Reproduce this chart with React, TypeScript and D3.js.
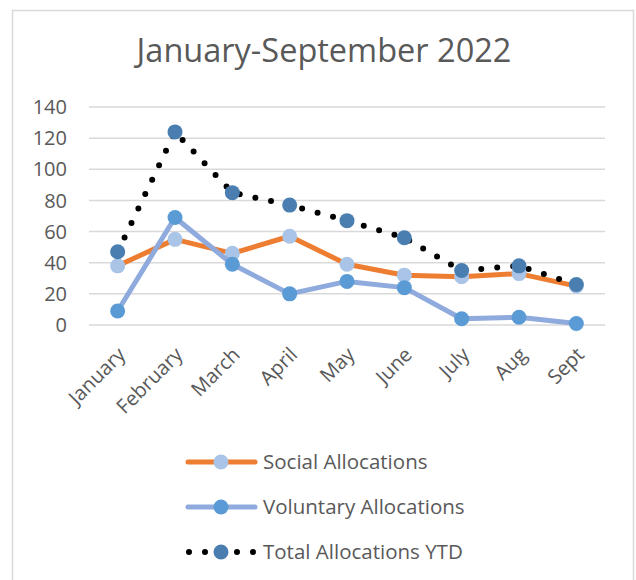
import React, { useEffect, useRef } from 'react';
import * as d3 from 'd3';

const months = ['January', 'February', 'March', 'April', 'May', 'June', 'July', 'Aug', 'Sept'];
const socialValues = [38, 55, 46, 57, 39, 32, 31, 33, 25];
const voluntaryValues = [9, 69, 39, 20, 28, 24, 4, 5, 1];
const totalValues = [47, 124, 85, 77, 67, 56, 35, 38, 26];
const yTicks = [0, 20, 40, 60, 80, 100, 120, 140];

const FONT = "'Open Sans', 'DejaVu Sans', sans-serif";
const TEXT = '#595959';

const App = () => {
  const chartRef = useRef<SVGSVGElement | null>(null);

  useEffect(() => {
    document.body.style.margin = '0';
    drawChart();
  }, []);

  const drawChart = () => {
    const svg = d3.select(chartRef.current);
    svg.selectAll('*').remove();

    const height = 580;

    // 外框
    svg.append('rect')
      .attr('x', 12.5)
      .attr('y', 10.5)
      .attr('width', 621)
      .attr('height', height)
      .attr('fill', '#fff')
      .attr('stroke', '#d9d9d9')
      .attr('stroke-width', 1.5);

    // 标题
    svg.append('text')
      .attr('x', 324)
      .attr('y', 62)
      .attr('text-anchor', 'middle')
      .style('font-family', FONT)
      .style('font-size', '32.5px')
      .style('fill', TEXT)
      .text('January-September 2022');

    const xScale = d3.scaleBand<string>()
      .domain(months)
      .range([89, 605]);
    const cx = (m: string) => (xScale(m) as number) + xScale.bandwidth() / 2;

    const yScale = d3.scaleLinear()
      .domain([0, 140])
      .range([325, 107]);

    // 网格线
    svg.append('g')
      .selectAll('line')
      .data(yTicks)
      .join('line')
      .attr('x1', 89)
      .attr('x2', 605)
      .attr('y1', d => yScale(d))
      .attr('y2', d => yScale(d))
      .style('stroke', '#d9d9d9')
      .style('stroke-width', 1.5);

    // y 轴标签
    svg.append('g')
      .selectAll('text')
      .data(yTicks)
      .join('text')
      .attr('x', 67)
      .attr('y', d => yScale(d))
      .attr('dy', '0.36em')
      .attr('text-anchor', 'end')
      .style('font-family', FONT)
      .style('font-size', '20px')
      .style('fill', TEXT)
      .text(d => d);

    // x 轴标签
    svg.append('g')
      .selectAll('text')
      .data(months)
      .join('text')
      .attr('text-anchor', 'end')
      .attr('dy', '0.35em')
      .attr('transform', d => `translate(${cx(d) + 4}, ${351}) rotate(-45)`)
      .style('font-family', FONT)
      .style('font-size', '20px')
      .style('fill', TEXT)
      .text(d => d);

    const series = [
      { name: 'Social Allocations', values: socialValues, line: '#ED7D31', marker: '#A9C4E7', dotted: false },
      { name: 'Voluntary Allocations', values: voluntaryValues, line: '#8FAADC', marker: '#5B9BD5', dotted: false },
      { name: 'Total Allocations YTD', values: totalValues, line: '#000', marker: '#4A7EB1', dotted: true },
    ];

    const line = d3.line<number>()
      .x((d, i) => cx(months[i]))
      .y(d => yScale(d));

    series.forEach(s => {
      const g = svg.append('g');
      g.append('path')
        .datum(s.values)
        .attr('d', line)
        .attr('fill', 'none')
        .attr('stroke', s.line)
        .attr('stroke-width', s.dotted ? 6 : 5)
        .attr('stroke-linecap', 'round')
        .attr('stroke-linejoin', 'round')
        .attr('stroke-dasharray', s.dotted ? '0 16' : null);
      g.selectAll('circle')
        .data(s.values)
        .join('circle')
        .attr('cx', (d, i) => cx(months[i]))
        .attr('cy', d => yScale(d))
        .attr('r', 7.5)
        .attr('fill', s.marker);
    });

    // 图例
    const legend = svg.append('g');
    series.forEach((s, i) => {
      const y = 462 + i * 45;
      const item = legend.append('g');
      item.append('line')
        .attr('x1', s.dotted ? 189 : 188)
        .attr('x2', 255)
        .attr('y1', y)
        .attr('y2', y)
        .attr('stroke', s.line)
        .attr('stroke-width', s.dotted ? 6 : 5)
        .attr('stroke-linecap', 'round')
        .attr('stroke-dasharray', s.dotted ? '0 16' : null);
      item.append('circle')
        .attr('cx', 221)
        .attr('cy', y)
        .attr('r', 7.5)
        .attr('fill', s.marker);
      item.append('text')
        .attr('x', 263)
        .attr('y', y)
        .attr('dy', '0.35em')
        .style('font-family', FONT)
        .style('font-size', '20.5px')
        .style('fill', TEXT)
        .text(s.name);
    });
  };

  return <svg ref={chartRef} width={636} height={580} style={{ display: 'block', background: '#fff' }} />;
};

export default App;
